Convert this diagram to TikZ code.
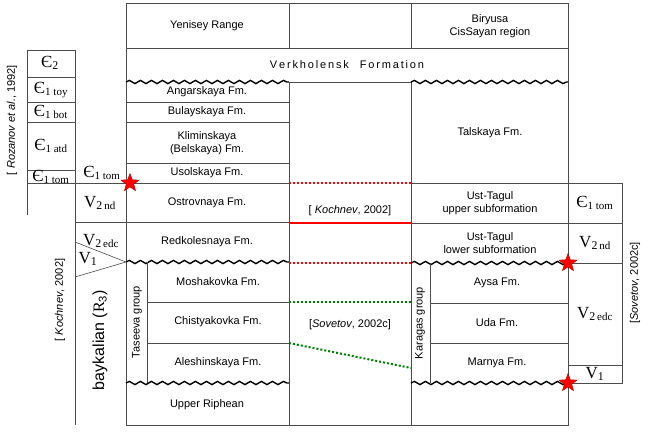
\documentclass[tikz,border=0pt]{standalone}
\usepackage{fontspec}
\setmainfont{Liberation Sans}
\newfontfamily\serf{Liberation Serif}
\usetikzlibrary{decorations.pathmorphing,shapes.geometric}
\tikzset{
 ln/.style={draw=black!70, line width=0.6pt},
 wave/.style={draw=black, line width=1.4pt, decorate, decoration={snake, amplitude=1.6pt, segment length=11pt}},
 lbl/.style={font=\fontsize{11}{13}\selectfont, align=center, inner sep=0pt},
 ep/.style={font=\serf\fontsize{17}{17}\selectfont, inner sep=0pt},
 rdot/.style={draw=red, line width=2pt, dotted},
 gdot/.style={draw=black!50!green, line width=2pt, dotted},
 redstar/.style={star, star points=5, star point ratio=2.4, fill=red, draw=red!70!black, minimum size=19pt, inner sep=0pt}
}
\newcommand{\Ep}[1]{Є\textsubscript{\fontsize{11}{11}\selectfont #1}}
\newcommand{\Vp}[2]{V\textsubscript{#1\fontsize{11}{11}\selectfont\,#2}}
\begin{document}
\begin{tikzpicture}[x=1pt,y=-1pt]
\useasboundingbox (0,0) rectangle (650,444);
% main frame
\draw[ln] (126,3) rectangle (568,425);
\draw[ln] (126,48) -- (568,48);
\draw[ln] (289,3) -- (289,48) (411,3) -- (411,48);
\draw[ln] (289,82) -- (289,425) (411,82) -- (411,425);
\draw[ln] (289,82) -- (411,82);
\draw[wave] (126,82) -- (289,82);
\draw[wave] (411,82) -- (568,82);
\node[lbl] (yr) at (207,26) {Yenisey Range};
\node[lbl] (bir) at (490,26) {Biryusa\\CisSayan region};
\node[lbl] (verk) at (347,65) {V\,e\,r\,k\,h\,o\,l\,e\,n\,s\,k\quad F\,o\,r\,m\,a\,t\,i\,o\,n};
% left column
\foreach \y in {102,122,163,183,222} \draw[ln] (126,\y) -- (289,\y);
\draw[wave] (126,262) -- (289,262);
\draw[ln] (147,262) -- (147,383);
\draw[ln] (147,302) -- (289,302) (147,343) -- (289,343);
\draw[wave] (126,383) -- (289,383);
\node[lbl] (ang) at (207,92) {Angarskaya Fm.};
\node[lbl] (bul) at (207,112) {Bulayskaya Fm.};
\node[lbl] (kli) at (207,143) {Kliminskaya\\(Belskaya) Fm.};
\node[lbl] (uso) at (207,173) {Usolskaya Fm.};
\node[lbl] (ost) at (207,203) {Ostrovnaya Fm.};
\node[lbl] (red) at (207,242) {Redkolesnaya Fm.};
\node[lbl,rotate=90] (tas) at (137,322) {Taseeva group};
\node[lbl] (mos) at (218,282) {Moshakovka Fm.};
\node[lbl] (chi) at (218,322) {Chistyakovka Fm.};
\node[lbl] (ale) at (218,363) {Aleshinskaya Fm.};
\node[lbl] (upr) at (207,405) {Upper Riphean};
% right column
\foreach \y in {183,223} \draw[ln] (411,\y) -- (568,\y);
\draw[wave] (411,263) -- (568,263);
\draw[ln] (430,263) -- (430,383);
\draw[ln] (430,303) -- (568,303) (430,343) -- (568,343);
\draw[wave] (411,383) -- (568,383);
\node[lbl] (tal) at (490,133) {Talskaya Fm.};
\node[lbl] (utu) at (490,203) {Ust-Tagul\\upper subformation};
\node[lbl] (utl) at (490,243) {Ust-Tagul\\lower subformation};
\node[lbl,rotate=90] (kar) at (420,323) {Karagas group};
\node[lbl] (ays) at (497,283) {Aysa Fm.};
\node[lbl] (uda) at (497,323) {Uda Fm.};
\node[lbl] (mar) at (497,363) {Marnya Fm.};
% middle correlations
\coordinate (m1a) at (289,183); \coordinate (m1b) at (411,183);
\coordinate (m2a) at (289,223); \coordinate (m2b) at (411,223);
\coordinate (m3a) at (289,263); \coordinate (m3b) at (411,263);
\coordinate (m4a) at (289,302); \coordinate (m4b) at (411,302);
\coordinate (m5a) at (289,343); \coordinate (m5b) at (411,368);
\draw[rdot] (m1a) -- (m1b);
\draw[red, line width=2pt] (m2a) -- (m2b);
\draw[rdot] (m3a) -- (m3b);
\draw[gdot] (m4a) -- (m4b);
\draw[gdot] (m5a) -- (m5b);
\node[lbl] (kch) at (350,211) {[ \textit{Kochnev}, 2002]};
\node[lbl] (sov) at (350,325) {[\textit{Sovetov}, 2002c]};
% left scale Rozanov
\draw[ln] (27,50) -- (75,50);
\draw[ln] (27,50) -- (27,215);
\draw[ln] (75,50) -- (75,425);
\foreach \y in {77,102,122,170} \draw[ln] (27,\y) -- (75,\y);
\draw[ln] (27,183) -- (126,183);
\node[ep] (e2) at (50,63) {Є\textsubscript{2}};
\node[ep] (ety) at (51,90) {\Ep{1 toy}};
\node[ep] (ebo) at (51,112) {\Ep{1 bot}};
\node[ep] (eat) at (51,146) {\Ep{1 atd}};
\node[ep] (eto) at (51,177) {\Ep{1 tom}};
\node[lbl,rotate=90] (roz) at (12,120) {[ \textit{Rozanov et al.}, 1992]};
% Kochnev scale
\draw[ln] (75,222) -- (126,222);
\draw[ln] (75,242) -- (126,262) -- (75,277);
\node[ep] (kto) at (102,173) {\Ep{1 tom}};
\node[ep] (kv2) at (100,203) {\Vp{2}{nd}};
\node[ep] (kve) at (101,241) {\Vp{2}{edc}};
\node[ep] (kv1) at (88,259) {V\textsubscript{1}};
\node[lbl,rotate=90] (kref) at (60,300) {[ \textit{Kochnev}, 2002]};
\node[rotate=90, inner sep=0pt, font=\fontsize{16}{16}\selectfont] (bay) at (100,340) {baykalian ({\serf R}\textsubscript{3})};
% Sovetov scale
\draw[ln] (568,183) -- (622,183) -- (622,383) -- (568,383);
\foreach \y in {223,263,365} \draw[ln] (568,\y) -- (622,\y);
\node[ep] (sto) at (595,203) {\Ep{1 tom}};
\node[ep] (snd) at (595,243) {\Vp{2}{nd}};
\node[ep] (sed) at (595,314) {\Vp{2}{edc}};
\node[ep] (sv1) at (595,374) {V\textsubscript{1}};
\node[lbl,rotate=90] (sref) at (635,283) {[\textit{Sovetov}, 2002c]};
% stars
\node[redstar] (s1) at (130,183) {};
\node[redstar] (s2) at (568,263) {};
\node[redstar] (s3) at (568,383) {};
\end{tikzpicture}
\end{document}
